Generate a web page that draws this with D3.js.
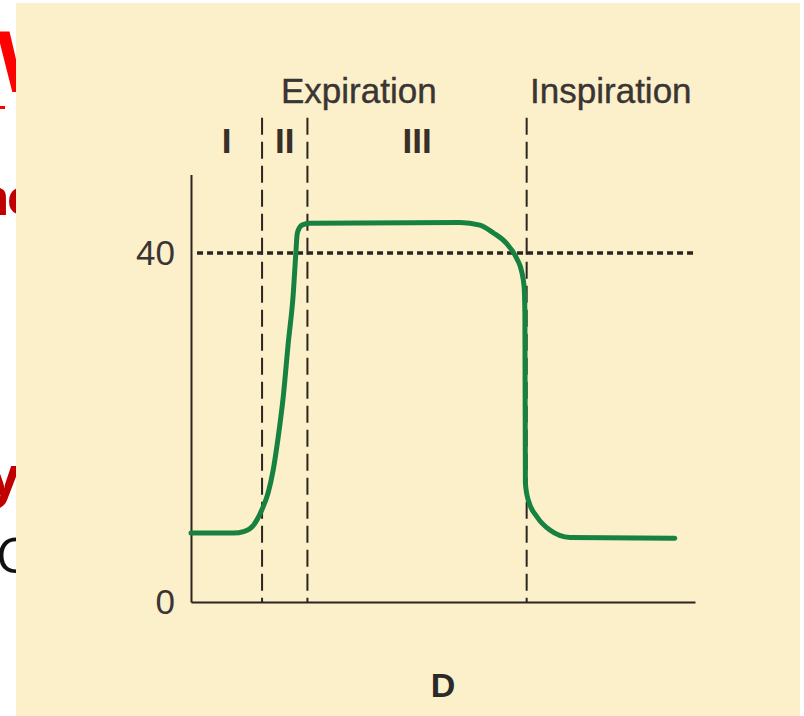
<!DOCTYPE html>
<html>
<head>
<meta charset="utf-8">
<script src="https://cdn.jsdelivr.net/npm/d3@7"></script>
<style>
  html, body { margin: 0; padding: 0; background: #fff; }
  svg { display: block; }
</style>
</head>
<body>
<script>
// capnogram, phases of one breath (time in arbitrary units, PCO2 in mmHg)
const timePts = [0, 8.4, 10.6, 12.4, 14.0, 15.3, 16.3, 17.3, 18.3, 19.3, 20.3, 20.8, 21.1, 22.0, 23.6, 53.4, 57.3, 60.0, 62.6, 64.6, 65.6, 66.1, 66.25, 66.35, 66.9, 68.6, 71.2, 75.2, 96.0]
const co2Pts = [7.9, 7.9, 8.1, 8.8, 10.5, 12.5, 15.1, 18.9, 23.5, 29.7, 35.4, 40.0, 42.3, 43.2, 43.4, 43.5, 43.2, 42.3, 41.1, 39.4, 37.9, 36.1, 33.0, 13.6, 11.7, 9.8, 8.25, 7.4, 7.3]
const phaseBounds = [0, 14.1, 23.1, 66.6]
const phaseLabels = ['I', 'II', 'III']
const yTicks = [0, 40]
const refLevel = 40
const sections = [
  { label: 'Expiration', from: 0, to: 66.6 },
  { label: 'Inspiration', from: 66.6, to: 100 }
]
const panelLabel = 'D'

const W = 804, H = 716
const ink = '#2b2521'
const textCol = '#3a3532'
const font = '"Liberation Sans", Arial, sans-serif'

const svg = d3.select(document.body).append('svg')
  .attr('width', W)
  .attr('height', H)
  .attr('xmlns', 'http://www.w3.org/2000/svg')

svg.append('rect').attr('width', W).attr('height', H).attr('fill', '#fff')

// bits of the slide behind the figure, cut off by the figure panel
const behind = svg.append('g').attr('font-family', '"Open Sans", "Noto Sans", sans-serif')
behind.append('text').attr('x', -3).attr('y', 92)
  .attr('font-size', 84).attr('font-weight', 700).attr('fill', '#ff0000').text('W')
behind.append('rect').attr('x', 0).attr('y', 106).attr('width', 5).attr('height', 3).attr('fill', '#ff0000')
behind.append('text').attr('x', 34).attr('y', 215).attr('text-anchor', 'end')
  .attr('letter-spacing', -3)
  .attr('font-size', 51).attr('font-weight', 700).attr('fill', '#c00000').text('ne')
behind.append('text').attr('x', 20).attr('y', 496).attr('text-anchor', 'end')
  .attr('font-size', 56).attr('font-weight', 700).attr('fill', '#c00000').text('y')
behind.append('text').attr('x', -4).attr('y', 573)
  .attr('font-size', 50).attr('fill', '#111').text('C')

svg.append('rect')
  .attr('x', 16).attr('y', 3).attr('width', 784).attr('height', 713)
  .attr('fill', '#fcf0cb')

const x = d3.scaleLinear().domain([0, 100]).range([191, 695])
const y = d3.scaleLinear().domain([0, 49]).range([602, 174.5])

const g = svg.append('g').attr('font-family', font)

// reference line at 40
g.append('line')
  .attr('x1', x(1.2)).attr('x2', x(100.4))
  .attr('y1', y(refLevel)).attr('y2', y(refLevel))
  .attr('stroke', ink).attr('stroke-width', 3.5)
  .attr('stroke-dasharray', '6,4')

// phase boundaries
g.selectAll('line.phase')
  .data(phaseBounds.slice(1))
  .join('line')
  .attr('class', 'phase')
  .attr('x1', d => x(d)).attr('x2', d => x(d))
  .attr('y1', y(55.5)).attr('y2', y(0))
  .attr('stroke', ink).attr('stroke-width', 2)
  .attr('stroke-dasharray', '17,7')

// axes
const yAxis = g.append('g')
  .attr('transform', `translate(${x(0)},0)`)
  .call(d3.axisLeft(y).tickValues(yTicks).tickSize(0).tickPadding(16).tickFormat(d3.format('d')))
yAxis.select('.domain').attr('stroke', ink).attr('stroke-width', 2)
yAxis.selectAll('text')
  .attr('font-size', 35).attr('font-family', font).attr('fill', textCol).attr('dy', '0.34em')

const xAxis = g.append('g')
  .attr('transform', `translate(0,${y(0)})`)
  .call(d3.axisBottom(x).tickValues([]).tickSizeOuter(0))
xAxis.select('.domain').attr('stroke', ink).attr('stroke-width', 2)

// CO2 trace
const line = d3.line()
  .x((d, i) => x(timePts[i]))
  .y(d => y(d))
  .curve(d3.curveMonotoneX)

g.append('path')
  .attr('d', line(co2Pts))
  .attr('fill', 'none')
  .attr('stroke', '#17813f')
  .attr('stroke-width', 5)
  .attr('stroke-linecap', 'round')
  .attr('stroke-linejoin', 'round')

// phase numerals
g.selectAll('text.phase')
  .data(phaseLabels)
  .join('text')
  .attr('class', 'phase')
  .attr('x', (d, i) => x((phaseBounds[i] + phaseBounds[i + 1]) / 2))
  .attr('y', 153)
  .attr('text-anchor', 'middle')
  .attr('font-size', 35)
  .attr('font-weight', 700)
  .attr('fill', '#3a2e28')
  .text(d => d)

// expiration / inspiration headings
g.selectAll('text.section')
  .data(sections)
  .join('text')
  .attr('class', 'section')
  .attr('x', d => x((d.from + d.to) / 2))
  .attr('y', 103)
  .attr('text-anchor', 'middle')
  .attr('font-size', 35)
  .attr('fill', textCol)
  .attr('stroke', textCol)
  .attr('stroke-width', 0.4)
  .text(d => d.label)

g.append('text')
  .attr('x', x(50))
  .attr('y', 697)
  .attr('text-anchor', 'middle')
  .attr('font-size', 34)
  .attr('font-weight', 700)
  .attr('fill', '#2a2a2a')
  .text(panelLabel)
</script>
</body>
</html>
